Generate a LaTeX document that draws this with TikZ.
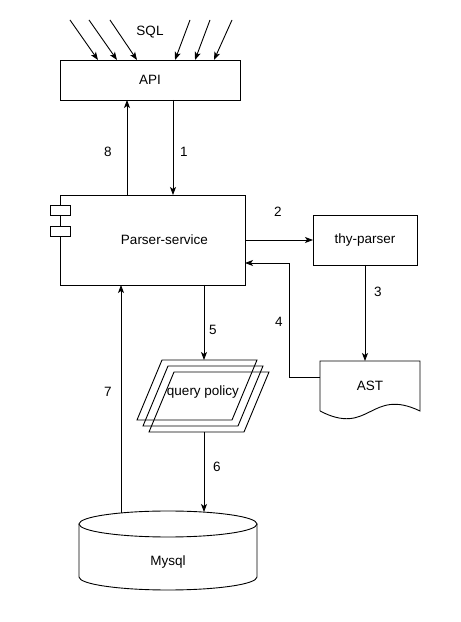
\documentclass[tikz,border=0pt]{standalone}
\usepackage{fontspec}
\setmainfont{Liberation Sans}
\usetikzlibrary{positioning,arrows.meta}

\begin{document}
\begin{tikzpicture}[x=1pt, y=1pt,
	every node/.style={font=\fontsize{13.5}{16}\selectfont},
	box/.style={draw, line width=0.9pt, inner sep=0pt, outer sep=0pt},
	icon/.style={draw, fill=white, line width=0.9pt, minimum width=20pt, minimum height=10pt, inner sep=0pt},
	para/.style={minimum width=120pt, minimum height=60pt, inner sep=0pt, outer sep=0pt},
	doc/.style={minimum width=100pt, minimum height=50pt, inner sep=0pt, outer sep=0pt},
	line/.style={line width=0.9pt},
	arr/.style={line width=0.9pt, -{Stealth[length=8pt, width=6pt, inset=2pt]}}]
	\useasboundingbox (0,0) rectangle (461,622);

	\node [box, minimum width=180pt, minimum height=40pt] (api) at (150,542) {API};
	\node [below=95pt of api, xshift=2.5pt, box, minimum width=185pt, minimum height=90pt] (parser) {\hspace*{24pt}Parser-service};
	\node [icon] (ic1) at ([yshift=30pt]parser.west) {};
	\node [icon] (ic2) at ([yshift=8.5pt]parser.west) {};
	\node [right=68pt of parser, box, minimum width=104pt, minimum height=50pt] (thy) {thy-parser};
	\node [below=96pt of thy, xshift=5pt, doc] (ast) {AST};
	\node [para] (pol1) at (197,232) {};
	\node [para, xshift=6pt, yshift=-6pt] (pol2) at (pol1) {};
	\node [para, xshift=6pt, yshift=-6pt] (pol3) at (pol2) {};
	\node (poltext) at ([yshift=4pt]pol2.center) {query policy};
	\node (sql) at (150,590) {SQL};
	\node (db) at (168,60) {Mysql};
	\coordinate (dbtop) at (204,110);
	\coordinate (dbl) at (121,109);

	\foreach \p in {pol1, pol2, pol3}
		\draw [line] ([xshift=25pt]\p.north west) -- (\p.north east) -- ([xshift=-25pt]\p.south east) -- (\p.south west) -- cycle;
	\draw [line] (ast.south west) -- (ast.north west) -- (ast.north east) -- (ast.south east)
		.. controls +(-50pt,24pt) and +(50pt,-26pt) .. (ast.south west);
	\draw [line] (79,98) -- (79,45) arc[start angle=180, end angle=360, x radius=89pt, y radius=13pt] -- (257,98);
	\draw [line] (168,98) ellipse [x radius=89pt, y radius=13pt];

	\foreach \sx/\ex in {70/98, 89/117, 110/137, 190/175, 210/195, 232/214}
		\draw [arr] (\sx,602) -- (\ex,0 |- api.north);

	\draw [arr] ([xshift=-23pt]api.south |- parser.north) -- ([xshift=-23pt]api.south);
	\draw [arr] ([xshift=23pt]api.south) -- ([xshift=23pt]api.south |- parser.north);
	\draw [arr] (parser.east) -- (thy.west);
	\draw [arr] (thy.south) -- (thy.south |- ast.north);
	\draw [arr] ([yshift=8.5pt]ast.west) -- ++(-31pt,0) |- ([yshift=-23pt]parser.east);
	\draw [arr] (dbtop |- parser.south) -- (dbtop |- pol1.north);
	\draw [arr] (dbtop |- pol3.south) -- (dbtop);
	\draw [arr] (dbl) -- (dbl |- parser.south);

	\node (n1) at (184,470) {1};
	\node (n2) at (278,410) {2};
	\node (n3) at (378,330) {3};
	\node (n4) at (279,300) {4};
	\node (n5) at (213,292) {5};
	\node (n6) at (217,155) {6};
	\node (n7) at (108,230) {7};
	\node (n8) at (108,470) {8};

\end{tikzpicture}
\end{document}
